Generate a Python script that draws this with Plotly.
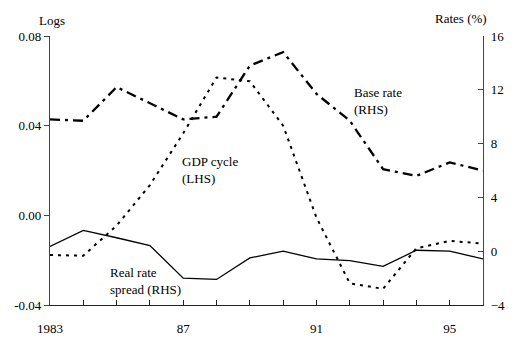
import plotly.graph_objects as go

years = list(range(1983, 1997))
base_rate = [9.8, 9.7, 12.2, 11.0, 9.8, 10.0, 13.8, 14.8, 11.7, 9.7, 6.1, 5.6, 6.6, 6.0]
gdp_cycle = [-0.0177, -0.018, -0.0046, 0.0135, 0.0366, 0.0615, 0.0598, 0.040, -0.001,
             -0.0303, -0.0328, -0.0147, -0.0114, -0.0126]
real_spread = [0.35, 1.55, 1.0, 0.42, -2.0, -2.1, -0.5, 0.0, -0.57, -0.7, -1.13, 0.07, 0.0, -0.57]

x_tick_vals = years
x_tick_text = ["1983", "", "", "", "87", "", "", "", "91", "", "", "", "95", ""]
left_ticks = [-0.04, 0.0, 0.04, 0.08]
left_tick_text = ["-0.04", "0.00", "0.04", "0.08"]
right_ticks = [-4, 0, 4, 8, 12, 16]

FONT = "Liberation Serif, Times New Roman, serif"

fig = go.Figure()
fig.add_trace(go.Scatter(x=years, y=gdp_cycle, mode="lines", yaxis="y",
                         line=dict(color="black", width=2, dash="3px,5px"), name="GDP cycle (LHS)"))
fig.add_trace(go.Scatter(x=years, y=base_rate, mode="lines", yaxis="y2",
                         line=dict(color="black", width=2.3, dash="10px,5px,3px,5px"), name="Base rate (RHS)"))
fig.add_trace(go.Scatter(x=years, y=real_spread, mode="lines", yaxis="y2",
                         line=dict(color="black", width=1.3), name="Real rate spread (RHS)"))

fig.update_layout(
    width=517, height=348,
    margin=dict(l=50, r=27, t=36, b=29),
    paper_bgcolor="white", plot_bgcolor="white",
    showlegend=False,
    font=dict(family=FONT, size=13, color="black"),
    xaxis=dict(range=[1983, 1996], tickvals=x_tick_vals, ticktext=x_tick_text,
               showgrid=False, zeroline=False, showline=True, linecolor="#222", linewidth=1.3,
               ticks="inside", ticklen=5, tickcolor="#222", ticklabelstandoff=11,
               tickfont=dict(family=FONT, size=13)),
    yaxis=dict(range=[-0.04, 0.08], tickvals=left_ticks, ticktext=left_tick_text,
               showgrid=False, zeroline=False, showline=True, linecolor="#444", linewidth=1.3,
               ticks="outside", ticklen=5, tickcolor="#444", tickfont=dict(family=FONT, size=13)),
    yaxis2=dict(range=[-4, 16], tickvals=right_ticks, overlaying="y", side="right",
                showgrid=False, zeroline=False, showline=True, linecolor="#444", linewidth=1.3,
                ticks="inside", ticklen=5, tickcolor="#444", ticklabelstandoff=4,
                tickfont=dict(family=FONT, size=13)),
    annotations=[
        dict(text="Logs", xref="paper", yref="paper", x=(52 - 50) / 440, y=(319 - 20) / 283,
             xanchor="center", yanchor="middle", showarrow=False),
        dict(text="Rates (%)", xref="paper", yref="paper", x=(468 - 50) / 440, y=(319 - 18) / 283,
             xanchor="center", yanchor="middle", showarrow=False),
        dict(text="Base rate<br>(RHS)", xref="paper", yref="paper", x=(357 - 50) / 440,
             y=(319 - 104) / 283, xanchor="left", yanchor="middle", align="left", showarrow=False),
        dict(text="GDP cycle<br>(LHS)", xref="paper", yref="paper", x=(182 - 50) / 440,
             y=(319 - 177) / 283, xanchor="left", yanchor="middle", align="left", showarrow=False),
        dict(text="Real rate<br>spread (RHS)", xref="paper", yref="paper", x=(109 - 50) / 440,
             y=(319 - 294) / 283, xanchor="left", yanchor="middle", align="left", showarrow=False),
    ],
)

fig.write_html("out.html", config={"displayModeBar": False},
               post_script="document.body.style.margin='0';document.body.style.overflow='hidden';")
